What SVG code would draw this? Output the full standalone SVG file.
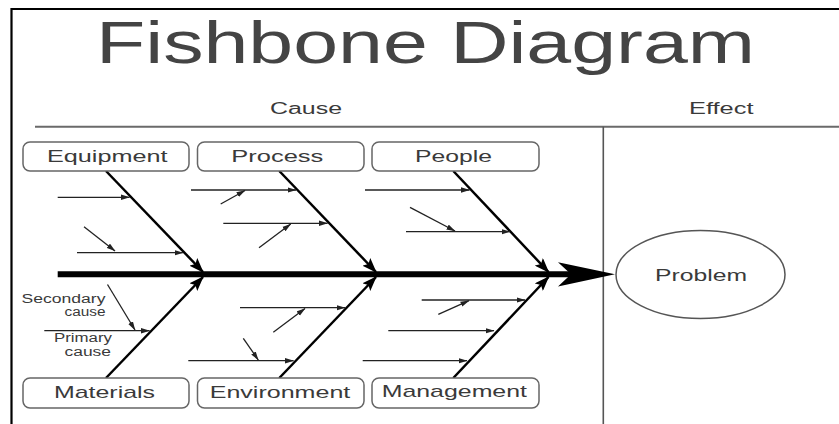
<svg xmlns="http://www.w3.org/2000/svg" width="839" height="424" viewBox="0 0 839 424">
  <style>
    text { font-family: "Liberation Sans", Arial, sans-serif; fill: #3a3a3a; }
    .title { font-size: 59px; fill: #444; }
    .head { font-size: 16px; }
    .label { font-size: 17px; }
    .note { font-size: 12.5px; }
    .box { fill: #fff; stroke: #666; stroke-width: 1.5; }
    .bone { stroke: #000; stroke-width: 2.5; fill: none; marker-end: url(#bone-head); }
    .rib { stroke: #222; stroke-width: 1.3; fill: none; marker-end: url(#rib-head); }
    .rule { stroke: #6a6a6a; stroke-width: 2; fill: none; }
  </style>
  <defs>
    <marker id="bone-head" markerUnits="userSpaceOnUse" markerWidth="15" markerHeight="11" viewBox="0 0 15 11" refX="14" refY="5.5" orient="auto">
      <path d="M0,0 L15,5.5 L0,11 L3,5.5 Z" fill="#000"/>
    </marker>
    <marker id="rib-head" markerUnits="userSpaceOnUse" markerWidth="9" markerHeight="6" viewBox="0 0 9 6" refX="8.5" refY="3" orient="auto">
      <path d="M0,0.3 L9,3 L0,5.7 Z" fill="#222"/>
    </marker>
  </defs>

  <rect width="839" height="424" fill="#fff"/>

  <!-- outer frame (top and left edges) -->
  <path d="M11.5,424 V9 H839" fill="none" stroke="#000" stroke-width="2.2"/>

  <text class="title" x="96" y="63" textLength="659" lengthAdjust="spacingAndGlyphs">Fishbone Diagram</text>

  <!-- column headers -->
  <text class="head" x="270" y="114.3" textLength="72" lengthAdjust="spacingAndGlyphs">Cause</text>
  <text class="head" x="689" y="114.3" textLength="64.5" lengthAdjust="spacingAndGlyphs">Effect</text>
  <line class="rule" x1="35" y1="126.7" x2="839" y2="126.7"/>
  <line x1="603.3" y1="126.7" x2="603.3" y2="424" stroke="#555" stroke-width="1.6"/>

  <g id="connectors">
    <!-- spine and head -->
    <line x1="57.7" y1="274.3" x2="574" y2="274.3" stroke="#000" stroke-width="6"/>
    <polygon points="615,274.3 558,262.3 571,274.3 558,286.5" fill="#000"/>

    <!-- main bones -->
    <line class="bone" x1="106" y1="171" x2="203" y2="272"/>
    <line class="bone" x1="279.3" y1="171" x2="376" y2="272"/>
    <line class="bone" x1="453.3" y1="171" x2="548.5" y2="272"/>
    <line class="bone" x1="106" y1="378" x2="203" y2="277"/>
    <line class="bone" x1="279.3" y1="378" x2="376" y2="277"/>
    <line class="bone" x1="453.3" y1="378" x2="548.5" y2="277"/>

    <!-- Equipment ribs -->
    <line class="rib" x1="57.7" y1="197.3" x2="129.5" y2="197.3"/>
    <line class="rib" x1="77" y1="252.7" x2="183" y2="252.7"/>
    <line class="rib" x1="84" y1="226.7" x2="115" y2="251"/>
    <!-- Process ribs -->
    <line class="rib" x1="191" y1="190" x2="296" y2="190"/>
    <line class="rib" x1="220.7" y1="204" x2="245" y2="190.5"/>
    <line class="rib" x1="223.3" y1="223.3" x2="327.5" y2="223.3"/>
    <line class="rib" x1="259" y1="247.7" x2="290.7" y2="224"/>
    <!-- People ribs -->
    <line class="rib" x1="365" y1="190" x2="469.5" y2="190"/>
    <line class="rib" x1="406" y1="231.7" x2="510" y2="231.7"/>
    <line class="rib" x1="410" y1="207.3" x2="455" y2="231"/>
    <!-- Materials ribs -->
    <line class="rib" x1="44.3" y1="330.7" x2="149.5" y2="330.7"/>
    <line class="rib" x1="107.5" y1="284.5" x2="135" y2="330"/>
    <!-- Environment ribs -->
    <line class="rib" x1="240" y1="307.7" x2="345" y2="307.7"/>
    <line class="rib" x1="273.3" y1="332.3" x2="305" y2="308.5"/>
    <line class="rib" x1="188.3" y1="360.7" x2="293.5" y2="360.7"/>
    <line class="rib" x1="243.3" y1="338.3" x2="258.3" y2="360"/>
    <!-- Management ribs -->
    <line class="rib" x1="421.7" y1="300" x2="525" y2="300"/>
    <line class="rib" x1="438.3" y1="314.3" x2="469" y2="300.7"/>
    <line class="rib" x1="388.3" y1="330.7" x2="494" y2="330.7"/>
    <line class="rib" x1="362.7" y1="360.7" x2="467" y2="360.7"/>
  </g>

  <!-- rib captions -->
  <g id="captions">
    <text class="note" x="21.5" y="302.7" textLength="84" lengthAdjust="spacingAndGlyphs">Secondary</text>
    <text class="note" x="64.5" y="315.7" textLength="41" lengthAdjust="spacingAndGlyphs">cause</text>
    <text class="note" x="54" y="342.3" textLength="58" lengthAdjust="spacingAndGlyphs">Primary</text>
    <text class="note" x="64.5" y="356" textLength="46.5" lengthAdjust="spacingAndGlyphs">cause</text>
  </g>

  <g id="equipment">
    <rect class="box" x="23" y="142" width="166" height="29" rx="7"/>
    <text class="label" x="47" y="161.7" textLength="120.5" lengthAdjust="spacingAndGlyphs">Equipment</text>
  </g>
  <g id="process">
    <rect class="box" x="197.5" y="142" width="166.5" height="29" rx="7"/>
    <text class="label" x="231.3" y="161.7" textLength="92" lengthAdjust="spacingAndGlyphs">Process</text>
  </g>
  <g id="people">
    <rect class="box" x="372" y="142" width="167" height="29" rx="7"/>
    <text class="label" x="415" y="161.7" textLength="77" lengthAdjust="spacingAndGlyphs">People</text>
  </g>
  <g id="materials">
    <rect class="box" x="23" y="378" width="166" height="30" rx="7"/>
    <text class="label" x="54" y="397.7" textLength="101" lengthAdjust="spacingAndGlyphs">Materials</text>
  </g>
  <g id="environment">
    <rect class="box" x="197.5" y="378" width="166.5" height="30" rx="7"/>
    <text class="label" x="209.7" y="397.7" textLength="140.6" lengthAdjust="spacingAndGlyphs">Environment</text>
  </g>
  <g id="management">
    <rect class="box" x="372" y="378" width="167" height="30" rx="7"/>
    <text class="label" x="381.7" y="396.7" textLength="145.3" lengthAdjust="spacingAndGlyphs">Management</text>
  </g>
  <g id="problem">
    <ellipse cx="700.5" cy="274.5" rx="84.5" ry="44" fill="#fff" stroke="#555" stroke-width="1.5"/>
    <text class="head" x="655" y="281" font-size="16.5" textLength="92" lengthAdjust="spacingAndGlyphs">Problem</text>
  </g>
</svg>
